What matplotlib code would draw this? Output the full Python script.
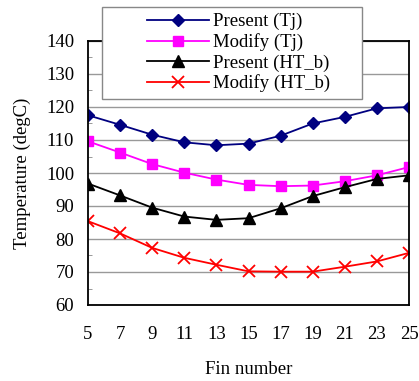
import matplotlib
matplotlib.use("Agg")
import matplotlib.pyplot as plt
from matplotlib.patches import Rectangle
from matplotlib.ticker import MultipleLocator

# fin count vs. temperature for present / modified heat sink
fins = [5, 7, 9, 11, 13, 15, 17, 19, 21, 23, 25]
present_tj = [117.5, 114.6, 111.6, 109.3, 108.4, 108.9, 111.3, 115.0, 117.0, 119.6, 120.0]
modify_tj = [109.6, 106.2, 102.7, 100.1, 98.0, 96.4, 96.0, 96.2, 97.5, 99.3, 101.8]
present_htb = [96.8, 93.2, 89.5, 86.8, 85.8, 86.3, 89.3, 93.0, 95.7, 98.2, 99.3]
modify_htb = [85.4, 81.7, 77.3, 74.3, 72.2, 70.2, 70.1, 70.1, 71.6, 73.2, 75.8]

plt.rcParams['font.family'] = ['Liberation Serif', 'DejaVu Serif']
FS = 13.5

W, H = 419, 381
fig = plt.figure(figsize=(W / 100, H / 100), dpi=100)
ax = fig.add_axes([88 / W, 1 - 305 / H, 321 / W, 264 / H])

ax.plot(fins, present_tj, color='#000080', marker='D', markersize=6, lw=1.3, label='Present (Tj)')
ax.plot(fins, modify_tj, color='#ff00ff', marker='s', markersize=7, lw=1.3, label='Modify (Tj)')
ax.plot(fins, present_htb, color='black', marker='^', markersize=8, lw=1.3, label='Present (HT_b)')
ax.plot(fins, modify_htb, color='#ff0000', marker='x', markersize=9, mew=1.3, lw=1.3, label='Modify (HT_b)')

ax.set_xlim(5, 25)
ax.set_ylim(60, 140)
ax.set_xticks(fins)
ax.yaxis.set_major_locator(MultipleLocator(10))
ax.yaxis.set_minor_locator(MultipleLocator(5))
ax.grid(axis='y', which='major', color='#999999', lw=1.0)
ax.set_axisbelow(True)

ax.tick_params(axis='x', length=0, pad=15, labelsize=FS)
ax.tick_params(axis='y', which='major', length=0, pad=10, labelsize=FS)
ax.tick_params(axis='y', which='minor', length=3, direction='in', color='#888888')
for s in ax.spines.values():
    s.set_color('black')
    s.set_linewidth(1.3)

ax.set_xlabel('Fin number', fontsize=FS, labelpad=13)
ax.set_ylabel('Temperature (degC)', fontsize=FS, labelpad=11)

# legend box sits over the top of the plot area
frame = Rectangle((102 / W, 1 - 99 / H), 260 / W, 92 / H, transform=fig.transFigure,
                  facecolor='white', edgecolor='#888888', lw=1.0, zorder=3)
fig.patches.append(frame)
leg = fig.legend(loc='upper left', bbox_to_anchor=(147 / W, 1 - 13 / H),
                 fontsize=FS, handlelength=3.3, labelspacing=0.16, frameon=False,
                 borderpad=0, borderaxespad=0, handletextpad=0.2)
leg.set_zorder(4)

fig.savefig('out.png', dpi=100)
